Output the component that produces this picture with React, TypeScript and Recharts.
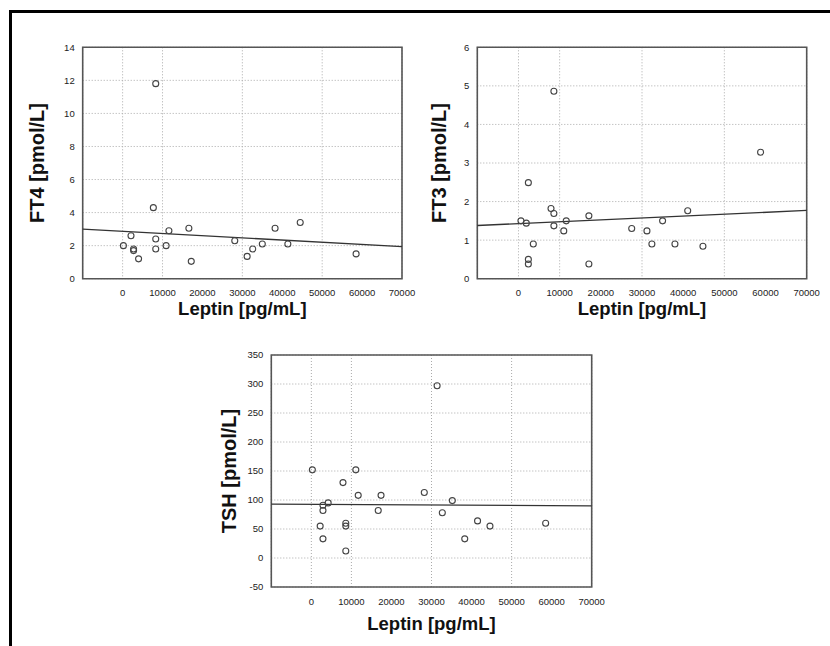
import React from "react";
import {
  ScatterChart,
  Scatter,
  XAxis,
  YAxis,
  CartesianGrid,
  ReferenceArea,
  ReferenceLine,
} from "recharts";

// leptin values on the x axis, one list per panel
const leptinFT4 = [200, 2100, 2750, 2750, 4000, 7700, 8300, 8300, 8300, 10900, 11600, 16600, 17200, 28100, 31200, 32600, 35000, 38200, 41400, 44500, 58500];
const ft4 = [2.0, 2.6, 1.8, 1.7, 1.2, 4.3, 11.8, 2.4, 1.8, 2.0, 2.9, 3.05, 1.05, 2.3, 1.35, 1.8, 2.1, 3.05, 2.1, 3.4, 1.5];

const leptinFT3 = [600, 1900, 2400, 2400, 2400, 3600, 7900, 8600, 8600, 8600, 11000, 11600, 17100, 17100, 27500, 31200, 32400, 35000, 38000, 41100, 44800, 58800];
const ft3 = [1.5, 1.44, 2.49, 0.5, 0.38, 0.9, 1.82, 1.69, 1.37, 4.86, 1.24, 1.5, 1.63, 0.38, 1.3, 1.24, 0.9, 1.5, 0.9, 1.76, 0.84, 3.28];

const leptinTSH = [250, 2200, 2900, 2900, 2900, 4200, 7900, 8600, 8600, 8600, 11100, 11700, 16700, 17400, 28200, 31400, 32700, 35200, 38300, 41500, 44600, 58500];
const tsh = [152, 55, 91, 82, 33, 95, 130, 60, 55, 12, 152, 108, 82, 108, 113, 297, 78, 99, 33, 64, 55, 60];

// regression lines (value at -10000 and at 70000)
const fitX = [-10000, 70000];
const fitFT4 = [3.0, 1.94];
const fitFT3 = [1.38, 1.77];
const fitTSH = [93, 90];

const leptinTicks = [0, 10000, 20000, 30000, 40000, 50000, 60000, 70000];
const ft4Ticks = [0, 2, 4, 6, 8, 10, 12, 14];
const ft3Ticks = [0, 1, 2, 3, 4, 5, 6];
const tshTicks = [-50, 0, 50, 100, 150, 200, 250, 300, 350];

const FONT = "Arial, 'Liberation Sans', Helvetica, sans-serif";

const toPoints = (xs: number[], ys: number[]) => xs.map((x, i) => ({ x, y: ys[i] }));

const OpenCircle = (props: any) => (
  <circle cx={props.cx} cy={props.cy} r={3} fill="none" stroke="#444" strokeWidth={1.1} />
);

const Panel = ({ xs, ys, fit, yTicks, yTitle, width, height, margin, yWidth, xHeight, yLabelOffset, xLabelOffset }) => {
  const yMin = yTicks[0];
  const yMax = yTicks[yTicks.length - 1];
  return (
    <ScatterChart width={width} height={height} margin={margin}>
      <CartesianGrid stroke="#aaa" strokeDasharray="1 2" />
      <XAxis
        type="number"
        dataKey="x"
        domain={[-10000, 70000]}
        ticks={leptinTicks}
        allowDataOverflow
        axisLine={false}
        tickLine={false}
        tickMargin={5}
        height={xHeight}
        tick={{ fontSize: 9.5, fill: "#222", fontFamily: FONT }}
        label={{
          value: "Leptin [pg/mL]",
          position: "insideBottom",
          offset: xLabelOffset,
          style: { fontSize: 18.5, fontWeight: "bold", fill: "#111", fontFamily: FONT },
        }}
      />
      <YAxis
        type="number"
        dataKey="y"
        domain={[yMin, yMax]}
        ticks={yTicks}
        allowDataOverflow
        axisLine={false}
        tickLine={false}
        width={yWidth}
        tick={{ fontSize: 9.5, fill: "#222", fontFamily: FONT }}
        label={{
          value: yTitle,
          angle: -90,
          position: "insideLeft",
          offset: yLabelOffset,
          style: { fontSize: 20, fontWeight: "bold", fill: "#111", fontFamily: FONT, textAnchor: "middle" },
        }}
      />
      <ReferenceArea
        x1={-10000}
        x2={70000}
        y1={yMin}
        y2={yMax}
        fill="none"
        fillOpacity={0}
        stroke="#555"
        strokeWidth={1.6}
        ifOverflow="visible"
      />
      <ReferenceLine
        segment={[
          { x: fitX[0], y: fit[0] },
          { x: fitX[1], y: fit[1] },
        ]}
        stroke="#333"
        strokeWidth={1.3}
        ifOverflow="visible"
      />
      <Scatter data={toPoints(xs, ys)} shape={<OpenCircle />} isAnimationActive={false} />
    </ScatterChart>
  );
};

export default function App() {
  return (
    <div
      style={{
        position: "absolute",
        left: 0,
        top: 0,
        width: 830,
        height: 646,
        overflow: "hidden",
        background: "#fff",
      }}
    >
      <div
        style={{
          position: "absolute",
          left: 9,
          top: 10,
          width: 900,
          height: 700,
          border: "3px solid #000",
        }}
      />
      <div style={{ position: "absolute", left: 20, top: 30 }}>
        <Panel
          xs={leptinFT4}
          ys={ft4}
          fit={fitFT4}
          yTicks={ft4Ticks}
          yTitle="FT4 [pmol/L]"
          width={400}
          height={300}
          margin={{ top: 17.3, right: 18, bottom: 11.3, left: 10 }}
          yWidth={52.7}
          xHeight={40}
          yLabelOffset={6.7}
          xLabelOffset={3.7}
        />
      </div>
      <div style={{ position: "absolute", left: 420, top: 30 }}>
        <Panel
          xs={leptinFT3}
          ys={ft3}
          fit={fitFT3}
          yTicks={ft3Ticks}
          yTitle="FT3 [pmol/L]"
          width={410}
          height={300}
          margin={{ top: 17.3, right: 23.3, bottom: 11.3, left: 10 }}
          yWidth={47.3}
          xHeight={40}
          yLabelOffset={9}
          xLabelOffset={3.7}
        />
      </div>
      <div style={{ position: "absolute", left: 200, top: 330 }}>
        <Panel
          xs={leptinTSH}
          ys={tsh}
          fit={fitTSH}
          yTicks={tshTicks}
          yTitle="TSH [pmol/L]"
          width={420}
          height={316}
          margin={{ top: 25, right: 28.3, bottom: 11, left: 20 }}
          yWidth={51.3}
          xHeight={48}
          yLabelOffset={9}
          xLabelOffset={5}
        />
      </div>
    </div>
  );
}
